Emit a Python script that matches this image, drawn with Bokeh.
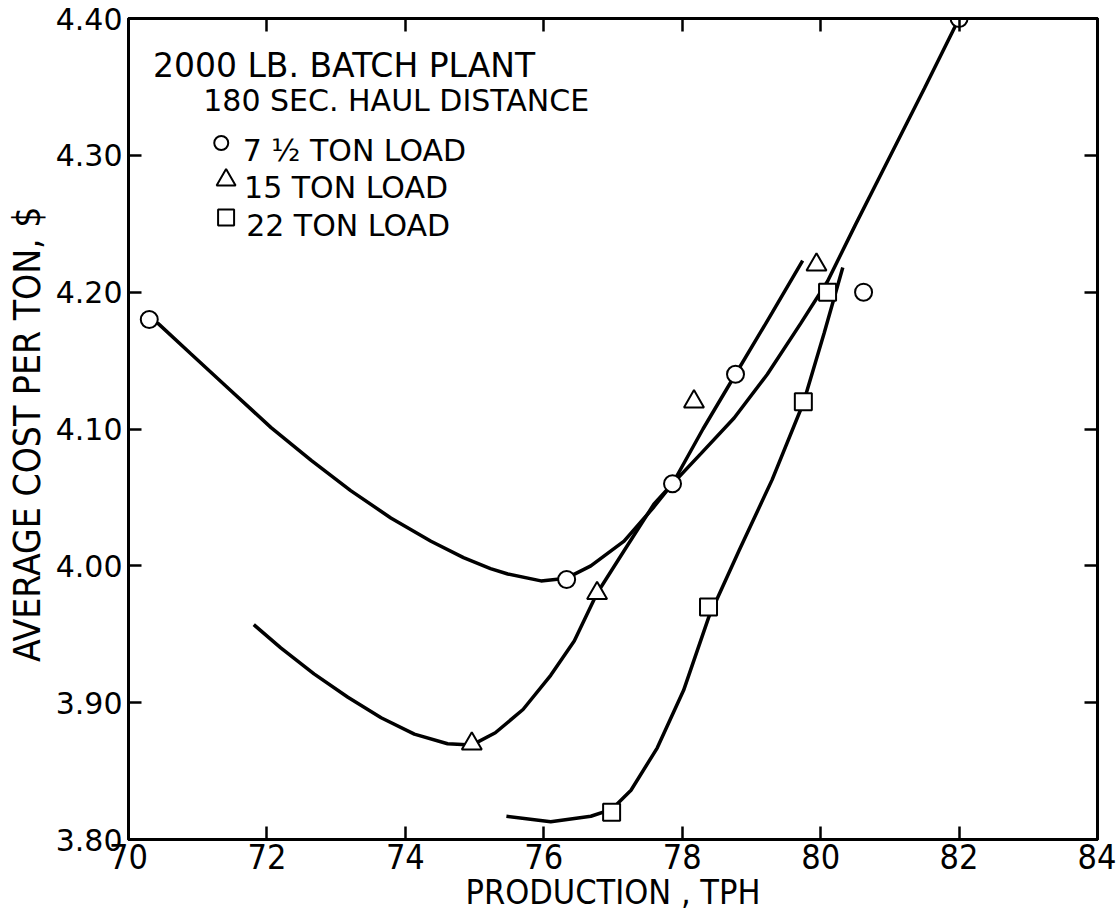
from bokeh.plotting import figure
from bokeh.models import LinearAxis, Range1d, FixedTicker, PrintfTickFormatter
from bokeh.core.properties import value
from bokeh.embed import file_html
from bokeh.resources import INLINE

# Measured points, production (TPH) vs. average cost per ton ($)
load_75_x = [70.30, 76.33, 77.86, 78.77, 80.62, 82.00]
load_75_y = [4.18, 3.99, 4.06, 4.14, 4.20, 4.40]
load_15_x = [74.96, 76.77, 78.17, 79.94]
load_15_y = [3.87, 3.98, 4.12, 4.22]
load_22_x = [76.98, 78.38, 79.75, 80.10]
load_22_y = [3.82, 3.97, 4.12, 4.20]

# Hand-faired curves through each series
curve_75_x = [70.30, 70.43, 70.90, 71.48, 72.06, 72.64, 73.21, 73.79, 74.37, 74.84,
              75.23, 75.48, 75.96, 76.33, 76.68, 77.16, 77.59, 77.86, 78.27, 78.75,
              79.23, 79.71, 80.10, 80.50, 80.91, 81.50, 82.00]
curve_75_y = [4.180, 4.177, 4.155, 4.128, 4.101, 4.077, 4.055, 4.035, 4.018, 4.006,
              3.998, 3.994, 3.989, 3.991, 4.000, 4.018, 4.043, 4.060, 4.082, 4.108,
              4.140, 4.177, 4.208, 4.249, 4.290, 4.349, 4.400]
curve_15_x = [71.81, 72.20, 72.68, 73.17, 73.65, 74.13, 74.61, 74.96, 75.30, 75.70,
              76.10, 76.44, 76.77, 77.16, 77.59, 77.86, 78.30, 78.77, 79.30, 79.74]
curve_15_y = [3.957, 3.940, 3.921, 3.904, 3.889, 3.877, 3.870, 3.869, 3.878, 3.895,
              3.920, 3.945, 3.980, 4.011, 4.045, 4.060, 4.100, 4.140, 4.185, 4.223]
curve_22_x = [75.46, 76.10, 76.68, 76.98, 77.26, 77.64, 78.02, 78.38, 78.82, 79.30,
              79.75, 80.05, 80.32]
curve_22_y = [3.817, 3.813, 3.817, 3.822, 3.836, 3.867, 3.909, 3.962, 4.011, 4.063,
              4.119, 4.170, 4.218]

x_ticks = [70, 72, 74, 76, 78, 80, 82, 84]
y_ticks = [3.80, 3.90, 4.00, 4.10, 4.20, 4.30, 4.40]

notes = ["2000 LB. BATCH PLANT", "180 SEC. HAUL DISTANCE"]
legend_labels = ["7 \u00bd TON LOAD", "15 TON LOAD", "22 TON LOAD"]
x_title = "PRODUCTION , TPH"
y_title = "AVERAGE  COST PER TON, $"

TEXT_FONT = "DejaVu Sans"
NARROW_FONT = "'DejaVu Sans Condensed', 'DejaVu Sans', sans-serif"

p = figure(width=1116, height=922, x_range=Range1d(70, 84), y_range=Range1d(3.80, 4.40),
           output_backend="svg", toolbar_location=None,
           x_axis_location=None, y_axis_location=None,
           min_border_left=128, min_border_right=19, min_border_top=18, min_border_bottom=83,
           background_fill_color="white", border_fill_color="white")
p.xgrid.visible = False
p.ygrid.visible = False
p.outline_line_color = "black"
p.outline_line_width = 3

bottom_axis = LinearAxis(ticker=FixedTicker(ticks=x_ticks), axis_label=x_title)
left_axis = LinearAxis(ticker=FixedTicker(ticks=y_ticks), axis_label=y_title,
                       formatter=PrintfTickFormatter(format="%.2f"))
top_axis = LinearAxis(ticker=FixedTicker(ticks=x_ticks), major_label_text_color=None,
                      major_label_text_font_size="1px", major_label_standoff=0)
right_axis = LinearAxis(ticker=FixedTicker(ticks=y_ticks), major_label_text_color=None,
                        major_label_text_font_size="1px", major_label_standoff=0)
p.add_layout(bottom_axis, "below")
p.add_layout(left_axis, "left")
p.add_layout(top_axis, "above")
p.add_layout(right_axis, "right")

for ax in [bottom_axis, left_axis, top_axis, right_axis]:
    ax.axis_line_width = 3
    ax.axis_line_color = "black"
    ax.major_tick_in = 13
    ax.major_tick_out = 0
    ax.major_tick_line_width = 2.5
    ax.major_tick_line_color = "black"
    ax.minor_tick_line_color = None

bottom_axis.major_label_text_font = NARROW_FONT
bottom_axis.major_label_text_font_size = "34px"
bottom_axis.major_label_text_color = "black"
bottom_axis.major_label_standoff = 4
bottom_axis.axis_label_text_font = NARROW_FONT
bottom_axis.axis_label_text_font_size = "34px"
bottom_axis.axis_label_text_font_style = "normal"
bottom_axis.axis_label_text_color = "black"
bottom_axis.axis_label_standoff = 0

left_axis.major_label_text_font = TEXT_FONT
left_axis.major_label_text_font_size = "30px"
left_axis.major_label_text_color = "black"
left_axis.major_label_standoff = 6
left_axis.axis_label_text_font = NARROW_FONT
left_axis.axis_label_text_font_size = "37px"
left_axis.axis_label_text_font_style = "normal"
left_axis.axis_label_text_color = "black"
left_axis.axis_label_standoff = 4

# Curves
for cx, cy in [(curve_75_x, curve_75_y), (curve_15_x, curve_15_y), (curve_22_x, curve_22_y)]:
    p.line(cx, cy, line_width=3.5, line_color="black")

# Hollow markers on top of the curves
p.scatter(load_75_x, load_75_y, marker="circle", size=17, fill_color="white",
          line_color="black", line_width=2)
p.scatter(load_15_x, load_15_y, marker="triangle", size=20, fill_color="white",
          line_color="black", line_width=2)
p.scatter(load_22_x, load_22_y, marker="square", size=17, fill_color="white",
          line_color="black", line_width=2)

# Notes and key in the upper-left corner
p.text(x=[70.354], y=[4.3656], text=notes[:1],
       text_font=value(TEXT_FONT), text_font_size="33px", text_color="black",
       text_align="left", text_baseline="alphabetic")
p.text(x=[71.08], y=[4.340], text=notes[1:],
       text_font=value(TEXT_FONT), text_font_size="30px", text_color="black",
       text_align="left", text_baseline="alphabetic")
p.text(x=[71.65, 71.67, 71.70], y=[4.3035, 4.2765, 4.2487], text=legend_labels,
       text_font=value(TEXT_FONT), text_font_size="30px", text_color="black",
       text_align="left", text_baseline="alphabetic")
p.scatter([71.34], [4.309], marker="circle", size=14, fill_color="white",
          line_color="black", line_width=2)
p.scatter([71.41], [4.282], marker="triangle", size=19, fill_color="white",
          line_color="black", line_width=2)
p.scatter([71.41], [4.2545], marker="square", size=16, fill_color="white",
          line_color="black", line_width=2)

open("out.html", "w").write(file_html(p, INLINE))
